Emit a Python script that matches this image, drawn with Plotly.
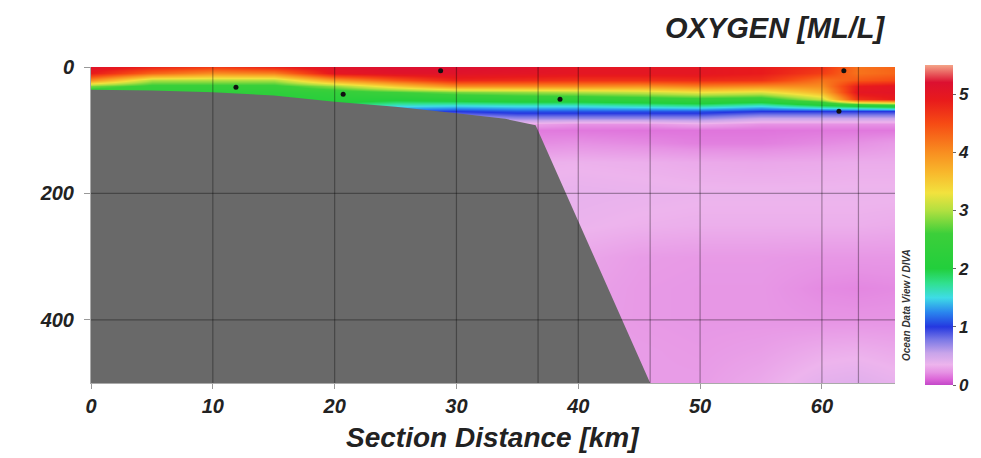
import plotly.graph_objects as go

# Section stations (km along track) and sampled depths (m)
section_km = [0, 5, 10, 15, 20, 25, 30, 35, 40, 45, 50, 55, 60, 63, 66]
depth_m = [0, 10, 20, 30, 40, 50, 60, 70, 80, 90, 100, 120, 150, 200, 250, 300, 350, 400, 450, 500]

# Dissolved oxygen [ml/l], one row per depth level, one column per station
oxygen_ml_l = [
    [5.10, 4.80, 4.60, 4.80, 5.10, 5.20, 5.20, 5.15, 5.00, 5.00, 5.00, 4.90, 4.70, 4.20, 4.30],
    [4.90, 4.30, 4.00, 4.10, 5.00, 5.10, 5.10, 5.05, 5.00, 5.00, 5.00, 4.90, 4.60, 4.20, 4.30],
    [4.00, 3.00, 3.00, 3.00, 3.90, 4.40, 4.80, 4.75, 4.70, 4.70, 4.75, 4.70, 4.20, 4.40, 4.50],
    [2.80, 2.50, 2.50, 2.50, 2.90, 3.50, 4.00, 4.00, 4.00, 3.95, 4.10, 4.00, 4.00, 4.90, 5.00],
    [2.30, 2.30, 2.30, 2.30, 2.40, 2.60, 2.80, 2.90, 3.00, 3.10, 3.30, 3.20, 3.70, 5.00, 5.05],
    [2.20, 2.20, 2.10, 2.10, 2.20, 2.10, 2.20, 2.30, 2.30, 2.40, 2.50, 2.40, 3.10, 4.70, 4.90],
    [2.00, 2.00, 2.00, 2.00, 1.90, 1.60, 1.55, 1.60, 1.60, 1.70, 1.80, 1.60, 2.00, 2.20, 2.40],
    [1.80, 1.80, 1.80, 1.80, 1.50, 1.10, 1.00, 1.10, 1.10, 1.10, 1.10, 1.00, 1.00, 1.00, 1.00],
    [1.50, 1.50, 1.50, 1.50, 1.20, 0.70, 0.60, 0.70, 0.70, 0.70, 0.70, 0.55, 0.55, 0.55, 0.55],
    [1.20, 1.20, 1.20, 1.20, 1.00, 0.40, 0.30, 0.30, 0.22, 0.22, 0.30, 0.22, 0.22, 0.22, 0.22],
    [1.00, 1.00, 1.00, 1.00, 0.80, 0.20, 0.16, 0.16, 0.15, 0.14, 0.14, 0.14, 0.15, 0.15, 0.15],
    [0.60, 0.60, 0.60, 0.60, 0.50, 0.25, 0.20, 0.20, 0.22, 0.20, 0.17, 0.17, 0.20, 0.22, 0.25],
    [0.36, 0.36, 0.36, 0.36, 0.36, 0.34, 0.33, 0.33, 0.34, 0.33, 0.31, 0.30, 0.31, 0.32, 0.32],
    [0.37, 0.37, 0.37, 0.37, 0.37, 0.37, 0.37, 0.37, 0.38, 0.37, 0.36, 0.36, 0.36, 0.36, 0.36],
    [0.35, 0.35, 0.35, 0.35, 0.35, 0.35, 0.35, 0.35, 0.36, 0.34, 0.33, 0.33, 0.33, 0.33, 0.32],
    [0.31, 0.31, 0.31, 0.31, 0.31, 0.31, 0.31, 0.31, 0.30, 0.26, 0.25, 0.25, 0.24, 0.24, 0.24],
    [0.29, 0.29, 0.29, 0.29, 0.29, 0.29, 0.29, 0.29, 0.28, 0.25, 0.24, 0.24, 0.20, 0.19, 0.20],
    [0.28, 0.28, 0.28, 0.28, 0.28, 0.28, 0.28, 0.28, 0.27, 0.25, 0.24, 0.24, 0.23, 0.23, 0.23],
    [0.28, 0.28, 0.28, 0.28, 0.28, 0.28, 0.28, 0.28, 0.27, 0.26, 0.25, 0.27, 0.32, 0.33, 0.31],
    [0.28, 0.28, 0.28, 0.28, 0.28, 0.28, 0.28, 0.28, 0.27, 0.26, 0.26, 0.31, 0.40, 0.42, 0.38],
]

# Sea-floor profile along the section
bottom_km = [0, 5, 10, 15, 20, 25, 30, 34, 36.5, 45.9]
bottom_depth_m = [36, 37, 40, 45, 55, 63, 73, 82, 92, 500]

# Sample positions marked on the section
sample_km = [11.9, 20.7, 28.7, 38.5, 61.8, 61.4]
sample_depth_m = [32, 43, 6, 51, 6, 70]

x_ticks = [0, 10, 20, 30, 40, 50, 60]
depth_ticks = [0, 200, 400]
colorbar_ticks = [0, 1, 2, 3, 4, 5]
station_lines_km = [36.7, 45.9, 63.0]

O2_MIN, O2_MAX = 0.0, 5.5
palette = [
    (0.00, "#c348c8"), (0.10, "#dc66d8"), (0.22, "#e692e4"), (0.35, "#edb4ed"),
    (0.55, "#c8a4ea"), (0.78, "#7a78e6"), (1.00, "#2438e0"), (1.25, "#2a86ee"),
    (1.50, "#3edce6"), (1.75, "#30e08e"), (2.00, "#22cf3c"), (2.60, "#3ccf3a"),
    (3.00, "#b2e040"), (3.30, "#f2e23e"), (3.65, "#f8b82c"), (4.00, "#f88e20"),
    (4.50, "#f64a14"), (4.90, "#e81a1c"), (5.20, "#dc1030"), (5.50, "#f4a488"),
]
colorscale = [[(v - O2_MIN) / (O2_MAX - O2_MIN), c] for v, c in palette]

FONT = "Liberation Sans, Arial, sans-serif"
W, H = 981, 458
L, R, T, B = 91, 84, 67, 75
plot_w, plot_h = W - L - R, H - T - B

fig = go.Figure()

fig.add_trace(go.Heatmap(
    x=section_km, y=depth_m, z=oxygen_ml_l,
    zsmooth="best", zmin=O2_MIN, zmax=O2_MAX,
    colorscale=colorscale,
    colorbar=dict(
        x=1 + (927 - (L + plot_w)) / plot_w, xanchor="left", xpad=0, ypad=0,
        y=0.5, yanchor="middle", lenmode="pixels", len=320,
        thickness=28, outlinewidth=0,
        tickvals=colorbar_ticks, ticks="outside", ticklen=3, tickcolor="#666",
        tickfont=dict(family=FONT, size=17, color="#222", weight="bold", style="italic"),
    ),
    hoverinfo="skip",
))

# Sea floor
fig.add_trace(go.Scatter(
    x=bottom_km + [bottom_km[0]],
    y=bottom_depth_m + [bottom_depth_m[-1]],
    fill="toself", fillcolor="#696969", mode="lines",
    line=dict(width=0), hoverinfo="skip", showlegend=False,
))

# Sample markers
fig.add_trace(go.Scatter(
    x=sample_km, y=sample_depth_m, mode="markers",
    marker=dict(color="#111", size=5), hoverinfo="skip", showlegend=False,
))

# Grid and station lines over the section
grid_color = "rgba(0,0,0,0.33)"
for xv in x_ticks[1:] + station_lines_km:
    fig.add_shape(type="line", xref="x", yref="y domain", x0=xv, x1=xv, y0=0, y1=1,
                  line=dict(color=grid_color, width=1.2), layer="above")
for yv in depth_ticks[1:]:
    fig.add_shape(type="line", xref="x domain", yref="y", x0=0, x1=1, y0=yv, y1=yv,
                  line=dict(color=grid_color, width=1.2), layer="above")

tick_font = dict(family=FONT, size=20, color="#222", weight="bold", style="italic")

fig.update_xaxes(
    range=[0, 66], tickvals=x_ticks, ticks="outside", ticklen=5, tickcolor="#999",
    showline=True, linecolor="#aaa", linewidth=1, showgrid=False, zeroline=False,
    tickfont=tick_font,
)
fig.update_yaxes(
    range=[500, 0], tickvals=depth_ticks, ticks="outside", ticklen=6, tickcolor="#999",
    showline=True, linecolor="#aaa", linewidth=1, showgrid=False, zeroline=False,
    tickfont=tick_font, ticklabelstandoff=6,
)

fig.add_annotation(
    text="OXYGEN [ML/L]", xref="paper", yref="paper",
    x=(889 - L) / plot_w, y=1 + (T - 28) / plot_h, xanchor="right", yanchor="middle",
    showarrow=False, font=dict(family=FONT, size=29, color="#222", weight="bold", style="italic"),
)
fig.add_annotation(
    text="Section Distance [km]", xref="paper", yref="paper",
    x=0.5, y=-(437 - (T + plot_h)) / plot_h, xanchor="center", yanchor="middle",
    showarrow=False, font=dict(family=FONT, size=28, color="#222", weight="bold", style="italic"),
)
fig.add_annotation(
    text="Ocean Data View / DIVA", xref="paper", yref="paper",
    x=(908 - L) / plot_w, y=(T + plot_h - 305) / plot_h, xanchor="center", yanchor="middle",
    textangle=-90, showarrow=False,
    font=dict(family=FONT, size=10, color="#333", weight="bold", style="italic"),
)

fig.update_layout(
    width=W, height=H, margin=dict(l=L, r=R, t=T, b=B),
    paper_bgcolor="white", plot_bgcolor="white", showlegend=False,
)

fig.write_html("out.html")
